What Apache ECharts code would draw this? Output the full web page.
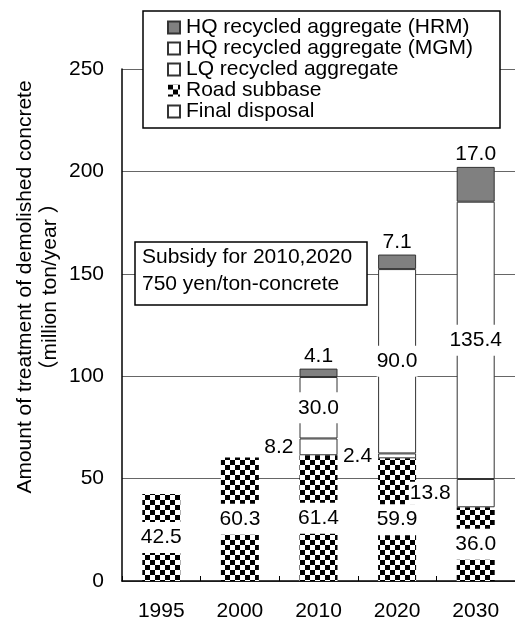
<!DOCTYPE html>
<html>
<head>
<meta charset="utf-8">
<script src="https://cdn.jsdelivr.net/npm/echarts@6/dist/echarts.min.js"></script>
<style>
html,body{margin:0;padding:0;background:#fff;}
#chart{width:515px;height:622px;}
</style>
</head>
<body>
<div id="chart"></div>
<script>
const categories = ['1995', '2000', '2010', '2020', '2030'];
const roadSubbase = [42.5, 60.3, 61.4, 59.9, 36.0];
const lqRecycled = [0, 0, 8.2, 2.4, 13.8];
const hqMGM = [0, 0, 30.0, 90.0, 135.4];
const hqHRM = [0, 0, 4.1, 7.1, 17.0];
const finalDisposal = [0, 0, 0, 0, 0];
const seriesNames = ['HQ recycled aggregate (HRM)', 'HQ recycled aggregate (MGM)', 'LQ recycled aggregate', 'Road subbase', 'Final disposal'];
const yMin = 0, yMax = 250, yStep = 50;
const yTitle = 'Amount of treatment of demolished concrete\n\uFF08million ton/year \uFF09';
const noteLines = ['Subsidy for 2010,2020', '750 yen/ton-concrete'];

const FONT = 'Liberation Sans, Arial, "Noto Sans CJK JP", sans-serif';

const cv = document.createElement('canvas');
cv.width = 10; cv.height = 10;
const cx = cv.getContext('2d');
cx.fillStyle = '#fff'; cx.fillRect(0, 0, 10, 10);
cx.fillStyle = '#000'; cx.fillRect(0, 0, 5, 5); cx.fillRect(5, 5, 5, 5);
const checker = { image: cv, repeat: 'repeat' };

const nz = arr => arr.map(v => (v === 0 ? '-' : v));
const fmt = p => Number(p.value).toFixed(1);
const lblBase = { show: true, color: '#000', fontSize: 21, fontFamily: FONT, formatter: fmt, lineHeight: 21 };
const BORDER = '#333';

const chart = echarts.init(document.getElementById('chart'), null, { renderer: 'canvas' });
chart.setOption({
  animation: false,
  backgroundColor: '#fff',
  textStyle: { fontFamily: FONT },
  grid: { left: 122, top: 69, width: 393, height: 512, containLabel: false },
  legend: {
    orient: 'vertical', left: 143, top: 11, z: 200,
    padding: [6, 0, 0, 24], itemGap: 0, itemWidth: 12, itemHeight: 12,
    icon: 'rect',
    selectedMode: false,
    textStyle: { fontSize: 21, lineHeight: 20, color: '#000', fontFamily: FONT, padding: [0, 0, 0, 1] },
    data: seriesNames.slice()
  },
  xAxis: {
    type: 'category', data: categories,
    axisLine: { lineStyle: { color: '#000', width: 1.5 } },
    axisTick: { show: true, inside: true, length: 5, lineStyle: { color: '#000' } },
    axisLabel: { color: '#000', fontSize: 21, margin: 20, fontFamily: FONT }
  },
  yAxis: {
    type: 'value', min: yMin, max: yMax, interval: yStep,
    axisLine: { show: true, lineStyle: { color: '#000', width: 1.5 } },
    axisTick: { show: false },
    splitLine: { lineStyle: { color: '#666', width: 1 } },
    axisLabel: { color: '#000', fontSize: 21, margin: 18, fontFamily: FONT }
  },
  graphic: { elements: [
    { type: 'rect', z: 150, shape: { x: 143, y: 11, width: 357, height: 117 },
      style: { fill: '#fff', stroke: '#000', lineWidth: 1.5 } },
    { type: 'rect', z: 150, shape: { x: 135, y: 242, width: 232, height: 63 },
      style: { fill: '#fff', stroke: '#000', lineWidth: 1.5 } },
    { type: 'text', z: 151, x: 142, y: 257,
      style: { text: noteLines[0], fill: '#000', font: '21px ' + FONT, textVerticalAlign: 'middle' } },
    { type: 'text', z: 151, x: 142, y: 284,
      style: { text: noteLines[1], fill: '#000', font: '21px ' + FONT, textVerticalAlign: 'middle' } },
    { type: 'text', z: 151, x: 38, y: 287, rotation: Math.PI / 2,
      style: { text: yTitle, fill: '#000', font: '21px ' + FONT, textAlign: 'center', textVerticalAlign: 'middle', lineHeight: 25 } }
  ] },
  series: [
    { name: seriesNames[4], type: 'bar', stack: 's', barWidth: 38, data: nz(finalDisposal),
      itemStyle: { color: '#fff', borderColor: BORDER, borderWidth: 1 } },
    { name: seriesNames[3], type: 'bar', stack: 's', barWidth: 38, data: nz(roadSubbase),
      itemStyle: { color: checker, borderColor: BORDER, borderWidth: 0 },
      label: Object.assign({}, lblBase, { position: 'inside', backgroundColor: '#fff', padding: [5, 0] }) },
    { name: seriesNames[2], type: 'bar', stack: 's', barWidth: 38, data: nz(lqRecycled),
      itemStyle: { color: '#fff', borderColor: BORDER, borderWidth: 1 },
      label: Object.assign({}, lblBase, { position: 'left', distance: 5, backgroundColor: '#fff', padding: [1, 1] }) },
    { name: seriesNames[1], type: 'bar', stack: 's', barWidth: 38, data: nz(hqMGM),
      itemStyle: { color: '#fff', borderColor: BORDER, borderWidth: 1 },
      label: Object.assign({}, lblBase, { position: 'inside', backgroundColor: '#fff', padding: [5, 0] }) },
    { name: seriesNames[0], type: 'bar', stack: 's', barWidth: 38, data: nz(hqHRM),
      itemStyle: { color: '#808080', borderColor: BORDER, borderWidth: 1 },
      label: Object.assign({}, lblBase, { position: 'top', distance: 2 }) }
  ]
});
</script>
</body>
</html>
